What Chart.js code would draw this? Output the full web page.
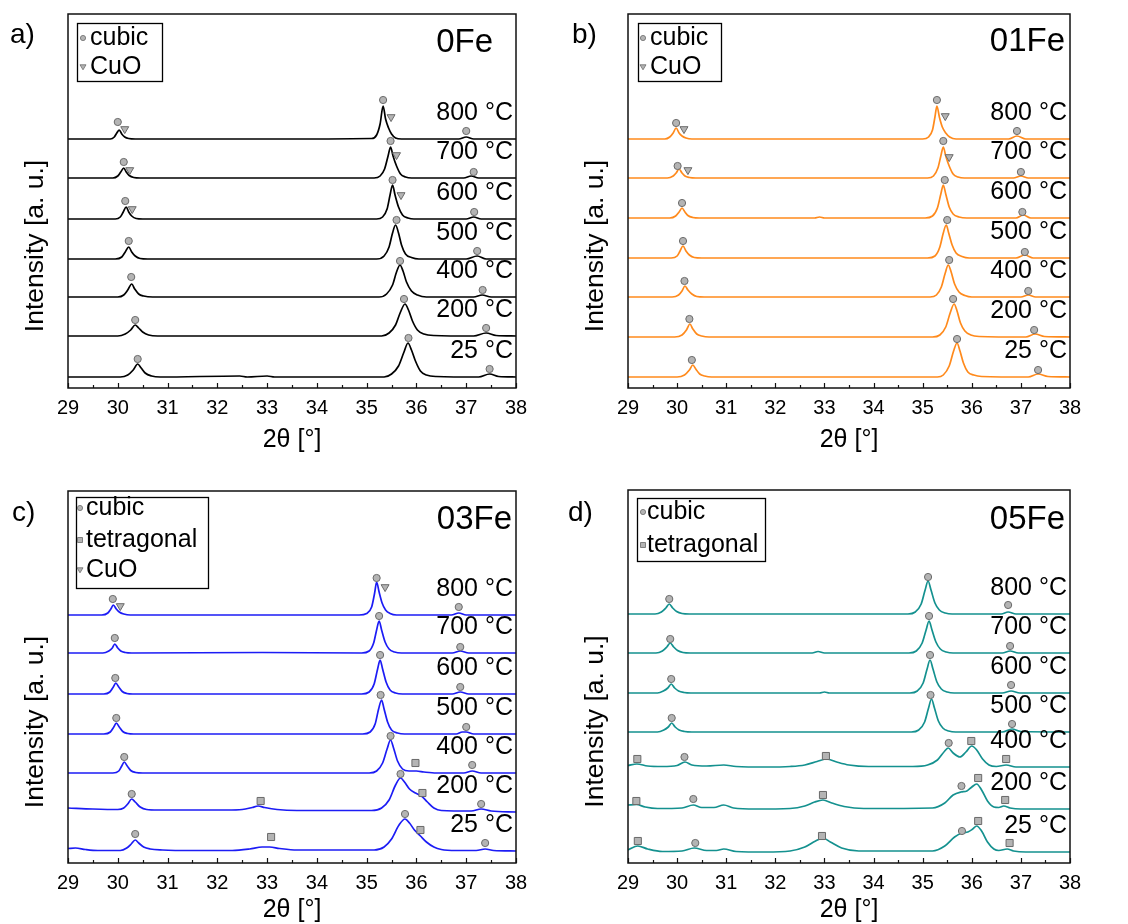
<!DOCTYPE html>
<html>
<head>
<meta charset="utf-8">
<script src="https://cdn.jsdelivr.net/npm/chart.js@4.4.0/dist/chart.umd.min.js"></script>
<style>
  html, body { margin: 0; padding: 0; background: #fff; overflow: hidden; }
  body { width: 1128px; height: 924px; position: relative; }
  canvas { position: absolute; }
</style>
</head>
<body>
<canvas id="graficoA" style="left:0;top:0" width="560" height="462"></canvas>
<canvas id="graficoB" style="left:560px;top:0" width="568" height="462"></canvas>
<canvas id="graficoC" style="left:0;top:462px" width="560" height="462"></canvas>
<canvas id="graficoD" style="left:560px;top:462px" width="568" height="462"></canvas>
<script>
// Temperaturas (de cima para baixo) e eixo 2θ
const temperaturas = ['800 °C', '700 °C', '600 °C', '500 °C', '400 °C', '200 °C', '25 °C'];
const minX = 29, maxX = 38;

// ---- 0Fe ----
const offsets0Fe = [249, 210, 169, 129, 91, 52, 11];
const curvas0Fe = [
  [[29,0],[29.85,0],[29.93,2],[29.98,6],[30.03,9],[30.08,5],[30.14,2],[30.22,0.5],[30.35,0],[33,0],[35.1,0.5],[35.2,4],[35.27,15],[35.33,33],[35.38,20],[35.44,11],[35.5,5],[35.58,1],[35.7,0],[36.85,0],[37.0,2],[37.15,0],[38,0]],
  [[29,0],[29.9,0],[30.0,2],[30.06,6],[30.12,10],[30.17,6],[30.23,2.5],[30.32,0.5],[30.45,0],[35.15,0],[35.27,2],[35.36,9],[35.43,22],[35.48,31],[35.53,22],[35.6,12],[35.68,4],[35.78,1],[35.9,0],[36.95,0],[37.1,2],[37.25,0],[38,0]],
  [[29,0],[29.95,0],[30.05,2],[30.11,7],[30.17,12],[30.22,7],[30.28,3],[30.37,0.5],[30.5,0],[35.2,0],[35.32,2],[35.41,10],[35.47,24],[35.52,34],[35.57,24],[35.64,12],[35.72,4],[35.83,1],[35.95,0],[37.0,0],[37.15,2],[37.3,0],[38,0]],
  [[29,0],[29.95,0],[30.08,2],[30.15,7],[30.22,12],[30.28,7],[30.35,3],[30.45,0.5],[30.6,0],[35.2,0],[35.35,3],[35.45,12],[35.52,26],[35.58,34],[35.64,26],[35.7,14],[35.78,5],[35.9,1.5],[36.05,0],[37.0,0],[37.22,3],[37.4,0],[38,0]],
  [[29,0],[30.0,0],[30.12,2],[30.2,7],[30.28,13],[30.34,8],[30.42,3],[30.52,1],[30.7,0],[35.25,0],[35.4,3],[35.52,12],[35.6,25],[35.67,32],[35.73,26],[35.8,15],[35.9,6],[36.02,2],[36.2,0],[37.15,0],[37.32,2],[37.5,0],[38,0]],
  [[29,0],[30.0,0],[30.15,2],[30.26,6],[30.35,11],[30.42,8],[30.5,4],[30.62,1],[30.8,0],[35.3,0],[35.45,3],[35.58,11],[35.68,24],[35.77,32],[35.84,26],[35.92,15],[36.02,6],[36.15,2],[36.35,0.5],[37.15,0],[37.4,3],[37.6,0.5],[38,0]],
  [[29,0],[30.05,0],[30.2,2],[30.31,7],[30.4,13],[30.47,9],[30.55,4],[30.68,1],[30.85,0],[32.45,1],[32.6,0],[33.0,1],[33.15,0],[35.35,0],[35.5,3],[35.64,11],[35.75,25],[35.83,34],[35.9,27],[35.98,16],[36.08,6],[36.2,2],[36.4,0.5],[37.25,0],[37.47,3],[37.65,0.5],[38,0]]
];
// marcadores: [índice da curva, 2θ, altura acima da linha base]
const cubic0Fe = [[0,30.0,17],[0,35.33,39],[0,37.0,8],[1,30.12,16],[1,35.48,37],[1,37.15,6],[2,30.15,18],[2,35.52,39],[2,37.16,7],[3,30.22,18],[3,35.6,39],[3,37.22,8],[4,30.27,20],[4,35.67,36],[4,37.33,7],[5,30.35,16],[5,35.75,37],[5,37.4,8],[6,30.4,18],[6,35.84,39],[6,37.47,8]];
const cuo0Fe = [[0,30.14,10],[0,35.49,22],[1,30.24,8],[1,35.6,23],[2,30.29,10],[2,35.69,24]];

// ---- 01Fe ----
const offsets01Fe = [249, 210, 170, 130, 91, 51, 11];
const curvas01Fe = [
  [[29,0],[29.75,0],[29.85,2],[29.92,6],[29.98,11],[30.04,6],[30.1,3],[30.18,1],[30.3,0],[35.0,0],[35.12,2],[35.2,9],[35.25,22],[35.29,33],[35.34,22],[35.4,12],[35.47,6],[35.55,2],[35.68,0],[36.75,0],[36.92,3],[37.1,0],[38,0]],
  [[29,0],[29.8,0],[29.92,2],[29.98,5],[30.04,9],[30.1,5],[30.16,2],[30.25,0.5],[30.38,0],[33.0,0],[35.1,0],[35.22,2],[35.31,10],[35.37,22],[35.42,31],[35.47,22],[35.54,12],[35.62,4],[35.72,1],[35.85,0],[36.85,0],[37.0,2],[37.15,0],[38,0]],
  [[29,0],[29.85,0],[29.97,2],[30.04,6],[30.1,10],[30.16,6],[30.22,2.5],[30.32,0.5],[30.45,0],[32.8,0],[32.9,1],[33.0,0],[35.05,0],[35.2,2],[35.3,10],[35.37,24],[35.42,33],[35.47,24],[35.54,11],[35.62,4],[35.74,1],[35.9,0],[36.9,0],[37.05,3],[37.2,0],[38,0]],
  [[29,0],[29.88,0],[30.0,2],[30.06,7],[30.12,12],[30.18,7],[30.25,3],[30.35,0.5],[30.5,0],[35.1,0],[35.25,2],[35.35,11],[35.42,25],[35.48,33],[35.53,25],[35.6,13],[35.68,5],[35.8,1.5],[35.95,0],[36.9,0],[37.08,3],[37.25,0],[38,0]],
  [[29,0],[29.9,0],[30.03,2],[30.1,6],[30.16,11],[30.22,7],[30.3,3],[30.4,0.5],[30.55,0],[35.15,0],[35.28,2],[35.38,10],[35.46,24],[35.52,32],[35.58,25],[35.65,13],[35.74,5],[35.86,1.5],[36.0,0],[37.0,0],[37.15,2],[37.3,0],[38,0]],
  [[29,0],[29.95,0],[30.1,2],[30.19,7],[30.26,13],[30.32,8],[30.4,3],[30.5,1],[30.65,0],[35.2,0],[35.35,2],[35.47,10],[35.56,24],[35.64,33],[35.7,26],[35.77,14],[35.86,6],[35.98,2],[36.15,0.5],[37.1,0],[37.29,3],[37.48,0.5],[38,0]],
  [[29,0],[30.0,0],[30.15,2],[30.25,7],[30.32,12],[30.38,8],[30.46,3],[30.56,1],[30.7,0],[35.3,0],[35.42,2],[35.54,11],[35.63,26],[35.7,34],[35.76,26],[35.83,14],[35.92,5],[36.04,2],[36.2,0.5],[37.15,0],[37.35,3],[37.55,0.5],[38,0]]
];
const cubic01Fe = [[0,29.98,16],[0,35.29,39],[0,36.92,8],[1,30.01,12],[1,35.42,37],[1,37.0,6],[2,30.1,15],[2,35.45,38],[2,37.03,6],[3,30.12,17],[3,35.5,38],[3,37.08,6],[4,30.15,16],[4,35.54,37],[4,37.15,6],[5,30.25,18],[5,35.62,38],[5,37.27,7],[6,30.3,17],[6,35.7,38],[6,37.35,7]];
const cuo01Fe = [[0,30.14,10],[0,35.46,23],[1,30.22,8],[1,35.54,21]];

// ---- 03Fe ----
const offsets03Fe = [248, 210, 169, 129, 90, 51, 12];
const curvas03Fe = [
  [[29,0],[29.68,0],[29.8,2],[29.86,6],[29.91,10],[29.97,6],[30.03,3],[30.12,1],[30.25,0],[34.85,0],[35.0,1.5],[35.1,8],[35.16,22],[35.2,33],[35.25,23],[35.31,12],[35.38,5],[35.47,1.5],[35.6,0],[36.7,0],[36.85,2],[37.0,0],[38,0]],
  [[29,0],[29.7,0],[29.82,2],[29.89,5],[29.94,9],[30.0,5],[30.06,2],[30.15,0.5],[30.28,0],[32.9,0.5],[34.9,0],[35.05,2],[35.14,10],[35.2,23],[35.25,32],[35.3,23],[35.37,11],[35.45,4],[35.56,1],[35.7,0],[36.72,0],[36.88,2],[37.05,0],[38,0]],
  [[29,0],[29.72,0],[29.84,2],[29.91,7],[29.96,11],[30.02,7],[30.09,2.5],[30.18,0.5],[30.3,0],[34.9,0],[35.05,2],[35.15,10],[35.22,25],[35.27,34],[35.32,25],[35.39,12],[35.47,4],[35.58,1],[35.72,0],[36.72,0],[36.88,2],[37.05,0],[38,0]],
  [[29,0],[29.72,0],[29.85,2],[29.92,7],[29.97,11],[30.03,7],[30.1,2.5],[30.2,0.5],[30.32,0],[34.92,0],[35.07,2],[35.17,10],[35.24,25],[35.3,34],[35.35,25],[35.42,12],[35.5,4],[35.62,1],[35.76,0],[36.8,0],[36.92,2],[37.0,2],[37.15,0],[38,0]],
  [[29,0],[29.9,0],[30.02,2],[30.08,7],[30.13,11],[30.19,7],[30.26,2.5],[30.36,0.5],[30.5,0],[35.05,0],[35.2,2],[35.32,10],[35.41,24],[35.48,33],[35.54,25],[35.62,12],[35.72,4],[35.85,2],[36.0,2],[36.15,1],[36.4,0],[36.95,0],[37.12,2],[37.3,0],[38,0]],
  [[29,4],[29.5,3],[30.0,2.5],[30.12,4],[30.2,8],[30.28,13],[30.35,10],[30.45,5],[30.58,2.5],[30.8,2],[31.5,2],[32.2,2],[32.5,2.5],[32.7,4.5],[32.82,6],[32.95,4.5],[33.2,2.5],[33.6,1.5],[35.1,1.5],[35.3,4],[35.45,12],[35.58,27],[35.68,34],[35.76,30],[35.86,23],[35.98,19],[36.1,16],[36.22,10],[36.35,4],[36.5,1.5],[37.1,1],[37.3,3],[37.5,1],[38,0]],
  [[29,2.5],[29.15,3],[29.35,1.5],[29.6,0.5],[30.05,0.5],[30.18,3],[30.27,7],[30.35,11],[30.42,8],[30.52,4],[30.65,2],[30.9,1],[31.5,0.5],[32.3,0.5],[32.65,2],[32.9,4],[33.05,4],[33.25,2.5],[33.6,1],[35.15,1],[35.35,4],[35.5,12],[35.65,26],[35.77,32],[35.86,28],[35.96,21],[36.08,15],[36.2,9],[36.35,4],[36.5,1.5],[36.8,0.5],[37.2,0.5],[37.38,2],[37.55,0.5],[38,0]]
];
const cubic03Fe = [[0,29.9,16],[0,35.2,37],[0,36.85,8],[1,29.94,15],[1,35.25,37],[1,36.88,6],[2,29.95,16],[2,35.27,39],[2,36.88,7],[3,29.97,16],[3,35.28,39],[3,37.0,7],[4,30.13,16],[4,35.48,37],[4,37.12,8],[5,30.28,18],[5,35.68,38],[5,37.3,8],[6,30.35,17],[6,35.77,37],[6,37.38,8]];
const tetra03Fe = [[4,35.98,10],[5,32.87,11],[5,36.12,19],[6,33.08,14],[6,36.08,21]];
const cuo03Fe = [[0,30.05,9],[0,35.37,28]];

// ---- 05Fe ----
const offsets05Fe = [249, 210, 170, 131, 96, 54, 11];
const curvas05Fe = [
  [[29,0],[29.55,0],[29.68,2],[29.77,6],[29.84,10],[29.91,6],[29.99,2.5],[30.1,0.5],[30.25,0],[34.7,0],[34.85,2],[34.97,10],[35.05,24],[35.11,33],[35.17,24],[35.25,11],[35.34,4],[35.46,1],[35.6,0],[36.6,0],[36.74,2],[36.9,0],[38,0]],
  [[29,0],[29.57,0],[29.7,2],[29.79,6],[29.86,10],[29.93,6],[30.01,2.5],[30.12,0.5],[30.27,0],[32.75,0],[32.87,1.5],[33.0,0],[34.72,0],[34.87,2],[34.99,10],[35.07,23],[35.13,32],[35.19,23],[35.27,11],[35.36,4],[35.48,1],[35.62,0],[36.62,0],[36.78,2],[36.95,0],[38,0]],
  [[29,0],[29.6,0],[29.72,2],[29.81,5],[29.88,9],[29.95,5],[30.03,2],[30.14,0.5],[30.28,0],[32.9,0],[33.0,1],[33.1,0],[34.74,0],[34.89,2],[35.01,10],[35.09,24],[35.15,33],[35.21,24],[35.29,11],[35.38,4],[35.5,1],[35.64,0],[36.62,0],[36.8,2],[36.98,0],[38,0]],
  [[29,0],[29.6,0],[29.73,2],[29.82,5],[29.89,9],[29.96,5],[30.04,2],[30.15,0.5],[30.3,0],[34.77,0],[34.92,2],[35.04,10],[35.12,24],[35.18,33],[35.24,24],[35.32,11],[35.41,4],[35.53,1],[35.67,0],[36.62,0],[36.82,3],[37.0,0.5],[38,0]],
  [[29,1.5],[29.18,3],[29.4,1],[29.7,0.5],[30.0,1.5],[30.16,5],[30.3,2],[30.6,1],[30.95,2],[31.2,0.5],[31.8,0],[32.3,0.5],[32.6,2],[32.85,5.5],[33.05,8],[33.25,5],[33.5,2],[33.9,0.5],[34.8,0.5],[35.1,2],[35.3,7],[35.45,16],[35.52,19],[35.62,14],[35.76,10],[35.88,15],[36.0,21],[36.1,17],[36.22,8],[36.35,2],[36.5,0.5],[36.7,2],[36.9,0],[38,0]],
  [[29,4],[29.17,4.5],[29.35,2],[29.6,0.5],[30.1,1],[30.33,4],[30.5,1.5],[30.75,1.5],[30.95,4],[31.15,1],[31.6,0],[32.3,0.5],[32.6,3],[32.8,7],[32.97,9],[33.15,6],[33.4,2.5],[33.8,0.5],[35.2,1],[35.45,6],[35.62,14],[35.78,17],[35.9,18],[36.0,22],[36.1,25],[36.2,19],[36.32,8],[36.45,2],[36.55,1.5],[36.65,3],[36.78,1],[37.0,0],[38,0]],
  [[29,2],[29.2,6],[29.4,3],[29.7,0.5],[30.1,1],[30.35,4],[30.6,1.5],[30.8,1.5],[30.95,3],[31.2,0.5],[31.8,0],[32.3,1],[32.6,5],[32.82,11],[32.97,14],[33.12,10],[33.35,4],[33.7,1],[35.2,1],[35.45,6],[35.65,15],[35.8,19],[35.92,20],[36.02,23],[36.1,26],[36.2,21],[36.32,10],[36.45,3],[36.55,1.5],[36.72,3],[36.85,1],[37.1,0],[38,0]]
];
const cubic05Fe = [[0,29.84,15],[0,35.11,37],[0,36.74,9],[1,29.86,14],[1,35.13,37],[1,36.78,7],[2,29.88,14],[2,35.15,38],[2,36.8,8],[3,29.89,14],[3,35.16,37],[3,36.82,8],[4,30.15,10],[4,35.53,24],[5,30.33,10],[5,35.79,23],[6,30.37,9],[6,35.8,21]];
const tetra05Fe = [[4,29.19,8],[4,33.03,11],[4,35.99,26],[4,36.7,8],[5,29.17,8],[5,32.97,14],[5,36.13,31],[5,36.68,9],[6,29.2,11],[6,32.95,16],[6,36.13,31],[6,36.77,9]];

const fonte = '"Liberation Sans", Arial, sans-serif';
const cinzaMarca = '#b4b4b4', bordaMarca = '#6a6a6a';

// desenha marcador pequeno da legenda
function marcaLegenda(ctx, tipo, x, y) {
  ctx.save();
  ctx.fillStyle = cinzaMarca;
  ctx.strokeStyle = bordaMarca;
  ctx.lineWidth = 0.8;
  ctx.beginPath();
  if (tipo === 'circle') ctx.arc(x, y, 2.6, 0, Math.PI * 2);
  else if (tipo === 'rect') ctx.rect(x - 2.5, y - 2.5, 5, 5);
  else { ctx.moveTo(x - 3, y - 2.2); ctx.lineTo(x + 3, y - 2.2); ctx.lineTo(x, y + 2.8); ctx.closePath(); }
  ctx.fill();
  ctx.stroke();
  ctx.restore();
}

const pluginPainel = {
  id: 'painel',
  afterDraw(chart) {
    const cfg = chart.options.plugins.painel;
    const { ctx, chartArea: a } = chart;
    const sx = chart.scales.x, sy = chart.scales.y;
    ctx.save();
    // moldura
    ctx.strokeStyle = '#111';
    ctx.lineWidth = 1.5;
    ctx.strokeRect(a.left, a.top, a.right - a.left, a.bottom - a.top);
    // ticks para dentro
    ctx.lineWidth = 1.2;
    for (let v = minX; v <= maxX; v += 0.5) {
      const px = Math.round(sx.getPixelForValue(v)) + 0.5;
      const len = Number.isInteger(v) ? 5 : 3;
      ctx.beginPath();
      ctx.moveTo(px, a.bottom);
      ctx.lineTo(px, a.bottom - len);
      ctx.stroke();
    }
    ctx.fillStyle = '#000';
    // temperaturas
    ctx.font = '25px ' + fonte;
    ctx.textAlign = 'right';
    ctx.textBaseline = 'middle';
    temperaturas.forEach((t, i) => {
      ctx.fillText(t, a.right - 3, sy.getPixelForValue(cfg.offsets[i] + 26));
    });
    // nome da amostra
    ctx.font = '33px ' + fonte;
    ctx.fillText(cfg.amostra, cfg.amostraX, cfg.amostraY);
    // letra do painel
    ctx.textAlign = 'left';
    ctx.font = '28px ' + fonte;
    ctx.fillText(cfg.letra, cfg.letraX, cfg.letraY);
    // eixo y
    ctx.save();
    ctx.translate(36, (a.top + a.bottom) / 2 + 45);
    ctx.rotate(-Math.PI / 2);
    ctx.textAlign = 'center';
    ctx.font = '26.5px ' + fonte;
    ctx.fillText('Intensity [a. u.]', 0, 0);
    ctx.restore();
    // legenda
    const L = cfg.legenda;
    ctx.lineWidth = 1.3;
    ctx.strokeStyle = '#000';
    ctx.strokeRect(L.x + 0.5, L.y + 0.5, L.w, L.h);
    ctx.font = '25px ' + fonte;
    ctx.textAlign = 'left';
    L.itens.forEach((it) => {
      marcaLegenda(ctx, it.tipo, L.mx, it.y);
      ctx.fillText(it.texto, L.tx, it.y);
    });
    ctx.restore();
  },
};

function criaPainel(id, cfg) {
  const datasets = [];
  cfg.curvas.forEach((pts, i) => {
    datasets.push({
      data: pts.map((p) => ({ x: p[0], y: p[1] + cfg.offsets[i] })),
      borderColor: cfg.cor,
      borderWidth: 1.7,
      pointRadius: 0,
      cubicInterpolationMode: 'monotone',
      order: 2,
    });
  });
  const marcador = (lista, estilo, raio, rot) => ({
    data: lista.map((m) => ({ x: m[1], y: m[2] + cfg.offsets[m[0]] })),
    showLine: false,
    pointStyle: estilo,
    pointRadius: raio,
    pointRotation: rot,
    pointBackgroundColor: cinzaMarca,
    pointBorderColor: bordaMarca,
    pointBorderWidth: 1,
    order: 1,
  });
  datasets.push(marcador(cfg.cubic, 'circle', 3.6, 0));
  if (cfg.tetra) datasets.push(marcador(cfg.tetra, 'rect', 5, 0));
  if (cfg.cuo) datasets.push(marcador(cfg.cuo, 'triangle', 4.6, 180));

  new Chart(document.getElementById(id), {
    type: 'line',
    data: { datasets },
    plugins: [pluginPainel],
    options: {
      responsive: false,
      animation: false,
      events: [],
      layout: { padding: { left: 68, right: cfg.padDir, top: cfg.padTopo, bottom: 0 } },
      plugins: { legend: { display: false }, tooltip: { enabled: false }, painel: cfg },
      scales: {
        x: {
          type: 'linear',
          min: minX,
          max: maxX,
          afterFit: (s) => { s.height = cfg.alturaX; },
          grid: { display: false, drawTicks: false },
          border: { display: false },
          ticks: { stepSize: 1, padding: 8, color: '#000', font: { family: fonte, size: 20 } },
          title: { display: true, text: '2θ [°]', color: '#000', font: { family: fonte, size: 25, lineHeight: 1 }, padding: { top: 0, bottom: cfg.padTitulo } },
        },
        y: { display: false, min: 0, max: cfg.ymax },
      },
    },
  });
}

window.onload = () => {
  criaPainel('graficoA', {
    curvas: curvas0Fe, offsets: offsets0Fe, cubic: cubic0Fe, cuo: cuo0Fe, cor: '#000000',
    padTopo: 14, padDir: 44, alturaX: 74, ymax: 374, padTitulo: 9.5,
    amostra: '0Fe', amostraX: 493, amostraY: 43, letra: 'a)', letraX: 10, letraY: 35,
    legenda: { x: 77, y: 23, w: 85, h: 58, mx: 83, tx: 90, itens: [{ tipo: 'circle', texto: 'cubic', y: 38 }, { tipo: 'tri', texto: 'CuO', y: 67 }] },
  });
  criaPainel('graficoB', {
    curvas: curvas01Fe, offsets: offsets01Fe, cubic: cubic01Fe, cuo: cuo01Fe, cor: '#ff8a1c',
    padTopo: 14, padDir: 58, alturaX: 74, ymax: 374, padTitulo: 9.5,
    amostra: '01Fe', amostraX: 505, amostraY: 42, letra: 'b)', letraX: 12, letraY: 35,
    legenda: { x: 78, y: 23, w: 83, h: 58, mx: 83, tx: 90, itens: [{ tipo: 'circle', texto: 'cubic', y: 38 }, { tipo: 'tri', texto: 'CuO', y: 67 }] },
  });
  criaPainel('graficoC', {
    curvas: curvas03Fe, offsets: offsets03Fe, cubic: cubic03Fe, tetra: tetra03Fe, cuo: cuo03Fe, cor: '#1c1cf5',
    padTopo: 29, padDir: 44, alturaX: 61, ymax: 372, padTitulo: 1.5,
    amostra: '03Fe', amostraX: 512, amostraY: 58, letra: 'c)', letraX: 12, letraY: 51,
    legenda: { x: 76, y: 35, w: 132, h: 91, mx: 80, tx: 86, itens: [{ tipo: 'circle', texto: 'cubic', y: 46 }, { tipo: 'rect', texto: 'tetragonal', y: 78 }, { tipo: 'tri', texto: 'CuO', y: 108 }] },
  });
  criaPainel('graficoD', {
    curvas: curvas05Fe, offsets: offsets05Fe, cubic: cubic05Fe, tetra: tetra05Fe, cor: '#14918f',
    padTopo: 28, padDir: 58, alturaX: 61, ymax: 373, padTitulo: 1.5,
    amostra: '05Fe', amostraX: 505, amostraY: 58, letra: 'd)', letraX: 8, letraY: 51,
    legenda: { x: 77, y: 36, w: 128, h: 63, mx: 83, tx: 87, itens: [{ tipo: 'circle', texto: 'cubic', y: 50 }, { tipo: 'rect', texto: 'tetragonal', y: 83 }] },
  });
};
</script>
</body>
</html>
